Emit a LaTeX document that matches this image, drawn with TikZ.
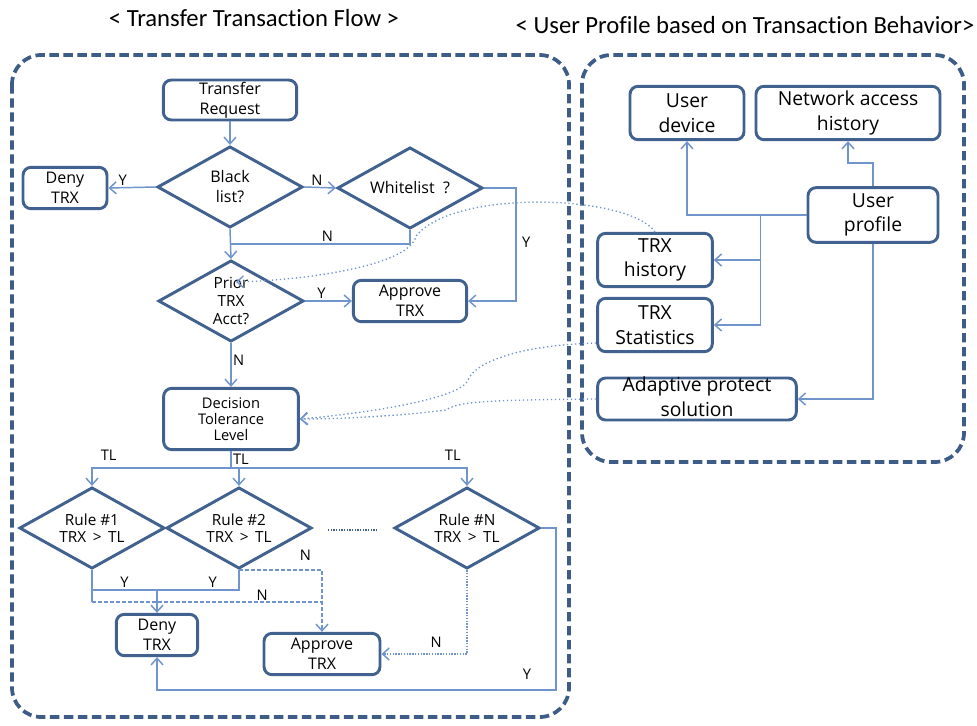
\documentclass[tikz,border=0pt]{standalone}
\usepackage{fontspec}
\setmainfont{Open Sans}
\newfontfamily\headfont[Ligatures=NoCommon]{Carlito}
\usetikzlibrary{shapes.geometric,arrows.meta,calc}

\definecolor{boxblue}{RGB}{65,97,143}
\definecolor{lineblue}{RGB}{112,148,204}
\definecolor{panelblue}{RGB}{62,92,136}

\tikzset{every picture/.style={line width=0.75pt}}
\tikzset{
  box/.style={draw=boxblue, line width=2.2pt, rounded corners=6pt, align=center, inner sep=0pt},
  flowtext/.style={font=\fontsize{12}{15}\selectfont},
  usertext/.style={font=\fontsize{14.5}{18.5}\selectfont},
  decide/.style={diamond, aspect=1.8, draw=boxblue, line width=2.2pt, inner sep=0pt,
    minimum width=109pt, minimum height=61pt, align=center},
  wire/.style={draw=lineblue, line width=1.1pt},
  flow/.style={wire, -{Straight Barb[length=5pt,width=9pt]}},
  link/.style={draw=lineblue, line width=1pt, dotted, -{Straight Barb[length=5pt,width=9pt]}},
  lab/.style={font=\fontsize{11}{13}\selectfont, inner sep=1pt},
  panel/.style={draw=panelblue, line width=2.8pt, dash pattern=on 7pt off 3.5pt, rounded corners=22pt},
}

\begin{document}
\begin{tikzpicture}[x=0.75pt,y=0.75pt,yscale=-1,xscale=1]
\useasboundingbox (0,0) rectangle (977,725);

% Text Node
\node[font=\headfont\fontsize{18.5}{22}\selectfont] (headflow) at (254,18) {< Transfer Transaction Flow >};
% Text Node
\node[font=\headfont\fontsize{18.5}{22}\selectfont] (headuser) at (745,25) {< User Profile based on Transaction Behavior>};

%Shape: Rounded Rect [id:panels]
\draw[panel] (12,55) rectangle (569,717);
\draw[panel] (582,55) rectangle (964,462);

%Flow boxes and decisions
\node[box, flowtext, minimum width=100pt, minimum height=30pt] (req) at (230,100) {Transfer\\Request};
\node[decide, font=\fontsize{12}{15}\selectfont] (black) at (230,187) {Black\\list?};
\node[decide, font=\fontsize{12}{15}\selectfont] (white) at (410,188) {Whitelist\ \ ?};
\node[box, flowtext, minimum width=63pt, minimum height=31pt] (deny1) at (65,188) {Deny\\TRX};
\node[decide, font=\fontsize{11.5}{13.5}\selectfont] (prior) at (231,301) {Prior\\TRX\\Acct?};
\node[box, flowtext, minimum width=85pt, minimum height=31pt] (app1) at (410,301) {Approve\\TRX};
\node[box, font=\fontsize{11}{12}\selectfont, minimum width=101pt, minimum height=46pt] (dtl) at (231,419) {Decision\\Tolerance\\Level};
\node[decide, font=\fontsize{11.5}{12.5}\selectfont] (rule1) at (92,528) {Rule \#1\\TRX \,>\, TL};
\node[decide, font=\fontsize{11.5}{12.5}\selectfont] (rule2) at (239,528) {Rule \#2\\TRX \,>\, TL};
\node[decide, font=\fontsize{11.5}{12.5}\selectfont] (ruleN) at (467,528) {Rule \#N\\TRX \,>\, TL};
\node[box, flowtext, minimum width=61pt, minimum height=31pt] (deny2) at (157,635) {Deny\\TRX};
\node[box, flowtext, minimum width=87pt, minimum height=31pt] (app2) at (322,654) {Approve\\TRX};

%User profile boxes
\node[box, usertext, minimum width=85.5pt, minimum height=40pt] (dev) at (687,113) {User\\device};
\node[box, usertext, minimum width=138pt, minimum height=40pt] (net) at (848,113) {Network access\\history};
\node[box, usertext, minimum width=97.5pt, minimum height=41pt] (prof) at (873,215) {User\\profile};
\node[box, usertext, minimum width=86pt, minimum height=40pt] (hist) at (655,260) {TRX\\history};
\node[box, usertext, minimum width=86pt, minimum height=40pt] (stat) at (655,325) {TRX\\Statistics};
\node[box, usertext, minimum width=149pt, minimum height=31.5pt] (adapt) at (697,399)
  {\smash{\raisebox{-0.25em}{\begin{tabular}{@{}c@{}}Adaptive protect\\solution\end{tabular}}}};

%Connectors: screening
\draw[flow] (req) -- (black);
\draw[flow] (black.west) -- node[lab, above, pos=0.7] {Y} (deny1.east);
\draw[flow] (black.east) -- node[lab, above, pos=0.4] {N} (white.west);
\draw[flow] (black.south) -- (prior.north);
\coordinate (njoin) at ($(black.south)!0.5!(prior.north)$);
\draw[wire] (white.south) |- node[lab, above, pos=0.73] {N} (njoin);
\draw[flow] (white.east) -- ++(32,0) |- node[lab, right=3pt, pos=0.24] {Y} (app1.east);
\draw[flow] (prior.east) -- node[lab, above, pos=0.35] {Y} (app1.west);
\draw[flow] (prior.south) -- node[lab, right, pos=0.4] {N} (dtl.north);

%Connectors: tolerance rules
\coordinate (bus) at ($(dtl.south)+(0,17)$);
\draw[wire] (dtl.south) -- node[lab, right, pos=0.5] {TL} (bus);
\draw[flow] (bus) -| node[lab, above=4pt, pos=0.44] {TL} (rule1.north);
\draw[flow] (bus) -| (rule2.north);
\draw[flow] (bus) -| node[lab, above=4pt, pos=0.47] {TL} (ruleN.north);
\draw[boxblue, line width=1pt, densely dotted] ($(rule2.east)+(15,2)$) -- ($(ruleN.west)+(-15,2)$);

\coordinate (ydeny) at ($(deny2.north)+(0,-23)$);
\draw[wire] (rule1.south) |- node[lab, above, pos=0.75] {Y} (ydeny);
\draw[wire] (rule2.south) |- node[lab, above, pos=0.66] {Y} (ydeny);
\draw[flow] (ydeny) -- (deny2.north);

\coordinate (nfork) at ($(rule1.south)+(0,32)$);
\draw[wire] (rule1.south) -- (nfork);
\draw[wire, dash pattern=on 3pt off 1.5pt] (nfork) -- node[lab, above, pos=0.74] {N} (nfork -| app2.north);
\draw[flow, dash pattern=on 3pt off 1.5pt] (rule2.south) -| node[lab, above=6pt, pos=0.4] {N} (app2.north);
\draw[flow, densely dotted] (ruleN.south) |- node[lab, above=3pt, pos=0.68] {N} (app2.east);
\draw[flow] (ruleN.east) -- ++(15,0) |- ($(deny2.south)+(0,33)$) -- (deny2.south);
% Text Node
\node[lab] (yruleN) at (527,674) {Y};

%Connectors: user profile
\draw[flow] (prof.west) -| (dev.south);
\coordinate (tap) at ($(prof.west)+(-46,0)$);
\draw[flow] (tap) |- (hist.east);
\draw[flow] (tap) |- (stat.east);
\draw[flow] (prof.north) -- ++(0,-23) -| (net.south);
\draw[flow] (prof.south) |- (adapt.east);

%Dotted links into the flow
\draw[link] (hist.north) .. controls (630,195) and (455,188) .. (416,236) .. controls (410,265) and (310,280) .. ($(prior.center)+(5,-19)$);
\draw[link] ($(stat.west)+(0,18)$) .. controls (520,345) and (475,362) .. (468,380) .. controls (462,397) and (380,412) .. (dtl.east);
\draw[link] (adapt.west) .. controls (480,400) and (458,402) .. (446,410) .. controls (400,416) and (340,419) .. (dtl.east);
\end{tikzpicture}
\end{document}
